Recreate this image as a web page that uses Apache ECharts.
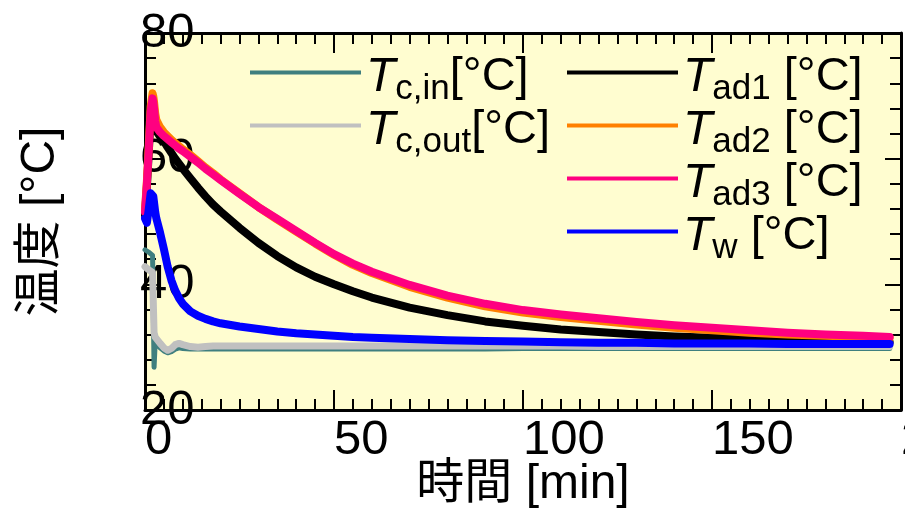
<!DOCTYPE html>
<html>
<head>
<meta charset="utf-8">
<script src="https://cdn.jsdelivr.net/npm/echarts@6/dist/echarts.min.js"></script>
<style>
  html, body { margin: 0; padding: 0; background: #ffffff; }
  #chart { width: 905px; height: 512px; }
</style>
</head>
<body>
<div id="chart"></div>
<script>
// Elapsed time [min]
const timeMin = [0, 0.5, 1, 1.5, 2, 2.2, 2.4, 2.7, 3, 4, 5, 6, 7, 8, 9, 10, 12, 14, 16, 18, 20,
  25, 30, 35, 40, 45, 50, 55, 60, 70, 80, 90, 100, 110, 120, 130, 140, 150, 160, 170, 180, 190, 197];

// Coolant inlet / outlet temperature [°C]
const tcIn = [45.5, 45.3, 45.1, 44.9, 44.6, 44.4, 26.8, 30.8, 30.6, 29.9, 29.4, 29.1, 29.3, 29.7, 29.9, 29.8, 29.7, 29.7, 29.7, 29.7, 29.7,
  29.7, 29.7, 29.7, 29.7, 29.7, 29.7, 29.7, 29.7, 29.7, 29.7, 29.7, 29.8, 29.8, 29.8, 29.8, 29.8, 29.8, 29.8, 29.8, 29.8, 29.8, 29.8];
const tcOut = [42.8, 42.5, 42.3, 42.1, 41.9, 41.7, 32.3, 31.6, 31.3, 30.6, 29.9, 29.5, 29.8, 30.4, 30.6, 30.4, 30.1, 30.0, 30.1, 30.2, 30.2,
  30.2, 30.2, 30.2, 30.2, 30.2, 30.2, 30.2, 30.2, 30.2, 30.2, 30.2, 30.2, 30.2, 30.1, 30.1, 30.1, 30.1, 30.1, 30.1, 30.1, 30.1, 30.1];

// Adsorber temperatures [°C]
const tAd1 = [51.0, 55.5, 61.0, 66.8, 68.5, 67.8, 66.8, 65.2, 64.4, 63.5, 62.8, 61.8, 60.9, 60.0, 59.2, 58.4, 56.9, 55.4, 54.0, 52.7, 51.6,
  49.0, 46.6, 44.5, 42.7, 41.2, 40.0, 38.9, 37.9, 36.3, 35.1, 34.1, 33.4, 32.8, 32.4, 32.0, 31.7, 31.5, 31.3, 31.1, 31.0, 30.9, 30.8];
const tAd2 = [51.8, 56.5, 62.2, 68.3, 70.4, 69.9, 69.0, 67.2, 66.2, 65.0, 64.2, 63.6, 63.0, 62.5, 62.0, 61.5, 60.6, 59.6, 58.6, 57.7, 56.7,
  54.5, 52.3, 50.3, 48.4, 46.5, 44.7, 43.1, 41.8, 39.6, 37.9, 36.5, 35.5, 34.8, 34.2, 33.6, 33.1, 32.7, 32.3, 32.0, 31.8, 31.6, 31.5];
const tAd3 = [51.5, 56.0, 61.5, 67.5, 69.6, 69.0, 68.0, 66.0, 65.0, 64.2, 63.6, 63.1, 62.6, 62.1, 61.6, 61.2, 60.3, 59.4, 58.4, 57.5, 56.6,
  54.4, 52.3, 50.4, 48.5, 46.6, 44.8, 43.3, 42.0, 39.9, 38.2, 36.9, 35.9, 35.2, 34.6, 34.0, 33.5, 33.1, 32.7, 32.3, 32.0, 31.8, 31.6];

// Water temperature [°C]
const tW = [50.5, 49.8, 52.0, 54.5, 54.6, 54.0, 53.0, 51.5, 50.5, 48.2, 45.6, 42.8, 40.6, 39.0, 37.8, 36.9, 35.7, 35.0, 34.5, 34.1, 33.8,
  33.3, 32.9, 32.5, 32.2, 32.0, 31.8, 31.6, 31.5, 31.3, 31.1, 31.0, 30.9, 30.8, 30.7, 30.7, 30.6, 30.6, 30.6, 30.5, 30.5, 30.5, 30.5];

// Axis ranges and tick steps
const xRange = [0, 200], xStep = 50;
const yRange = [20, 80], yStep = 20;

const FONT = "'Liberation Sans', Arial, 'Noto Sans CJK JP', sans-serif";

const seriesDefs = [
  { key: 'tcIn',  values: tcIn,  color: '#3f7f7f', width: 5, label: '{T|T}{s|c,in}{u|[°C]}' },
  { key: 'tcOut', values: tcOut, color: '#c0c0c0', width: 7, label: '{T|T}{s|c,out}{u|[°C]}' },
  { key: 'tAd1',  values: tAd1,  color: '#000000', width: 8, label: '{T|T}{s|ad1}{u| [°C]}' },
  { key: 'tAd2',  values: tAd2,  color: '#ff8000', width: 8, label: '{T|T}{s|ad2}{u| [°C]}' },
  { key: 'tAd3',  values: tAd3,  color: '#ff0080', width: 8, label: '{T|T}{s|ad3}{u| [°C]}' },
  { key: 'tW',    values: tW,    color: '#0000ff', width: 8, label: '{T|T}{s|w}{u| [°C]}' }
];

const labelText = {};
seriesDefs.forEach(d => { labelText[d.key] = d.label; });

const legendRich = {
  T: { fontSize: 48, fontStyle: 'italic', fontFamily: FONT, color: '#000', lineHeight: 60, padding: [10, 0, 0, 0] },
  s: { fontSize: 35, fontFamily: FONT, color: '#000', lineHeight: 60, padding: [34, 0, 0, 0] },
  u: { fontSize: 47, fontFamily: FONT, color: '#000', lineHeight: 60, padding: [10, 0, 0, 0] }
};

// legend entries: two columns, one component per entry
const legendSlots = [
  { key: 'tcIn',  left: 250, top: 38 },
  { key: 'tcOut', left: 250, top: 91 },
  { key: 'tAd1',  left: 567, top: 38 },
  { key: 'tAd2',  left: 567, top: 91 },
  { key: 'tAd3',  left: 567, top: 144 },
  { key: 'tW',    left: 567, top: 197 }
];

const tickLine = { color: '#000', width: 2 };
const axisLine = { show: true, onZero: false, lineStyle: { color: '#000', width: 3 } };

function xAxisDef(pos) {
  const bottom = pos === 'bottom';
  return {
    type: 'value', position: pos, gridIndex: 0,
    min: xRange[0], max: xRange[1], interval: xStep,
    axisLine: axisLine,
    axisTick: { show: true, inside: true, length: 20, lineStyle: tickLine },
    minorTick: { show: true, splitNumber: 10, length: 11, lineStyle: tickLine },
    splitLine: { show: false }, minorSplitLine: { show: false },
    axisLabel: {
      show: bottom, color: '#000', fontSize: 49, fontFamily: FONT,
      align: 'left', margin: 6, showMinLabel: true, showMaxLabel: true
    },
    name: bottom ? '時間 [min]' : '',
    nameLocation: 'middle', nameGap: 51, nameMoveOverlap: false,
    nameTextStyle: { fontSize: 48, color: '#000', fontFamily: FONT }
  };
}

function yAxisDef(pos) {
  const left = pos === 'left';
  return {
    type: 'value', position: pos, gridIndex: 0,
    min: yRange[0], max: yRange[1], interval: yStep,
    axisLine: axisLine,
    axisTick: { show: true, inside: true, length: 16, lineStyle: tickLine },
    minorTick: { show: true, splitNumber: 5, length: 11, lineStyle: tickLine },
    splitLine: { show: false }, minorSplitLine: { show: false },
    axisLabel: {
      show: left, inside: true, margin: -5, color: '#000', fontSize: 49, fontFamily: FONT,
      showMinLabel: true, showMaxLabel: true
    },
    name: left ? '温度 [°C]' : '',
    nameLocation: 'middle', nameGap: 80, nameRotate: 90, nameMoveOverlap: false,
    nameTextStyle: { fontSize: 48, color: '#000', fontFamily: FONT }
  };
}

const chart = echarts.init(document.getElementById('chart'), null, { renderer: 'canvas' });

chart.setOption({
  animation: false,
  backgroundColor: '#ffffff',
  textStyle: { fontFamily: FONT },
  grid: {
    left: 145, top: 33, width: 756, height: 377,
    show: true, backgroundColor: '#fffdd0', borderWidth: 0,
    containLabel: false, outerBoundsMode: 'none'
  },
  xAxis: [xAxisDef('bottom'), xAxisDef('top')],
  yAxis: [yAxisDef('left'), yAxisDef('right')],
  legend: legendSlots.map(s => ({
    data: [s.key], left: s.left, top: s.top, padding: 0,
    orient: 'vertical', icon: 'rect', itemWidth: 111, itemHeight: 4,
    selectedMode: false,
    formatter: name => labelText[name],
    textStyle: { color: '#000', fontFamily: FONT, rich: legendRich }
  })),
  series: seriesDefs.map(d => ({
    name: d.key, type: 'line', xAxisIndex: 0, yAxisIndex: 0,
    showSymbol: false, symbol: 'none',
    color: d.color,
    lineStyle: { color: d.color, width: d.width, join: 'round', cap: 'round' },
    itemStyle: { color: d.color },
    emphasis: { disabled: true },
    data: timeMin.map((t, i) => [t, d.values[i]])
  }))
});
</script>
</body>
</html>
